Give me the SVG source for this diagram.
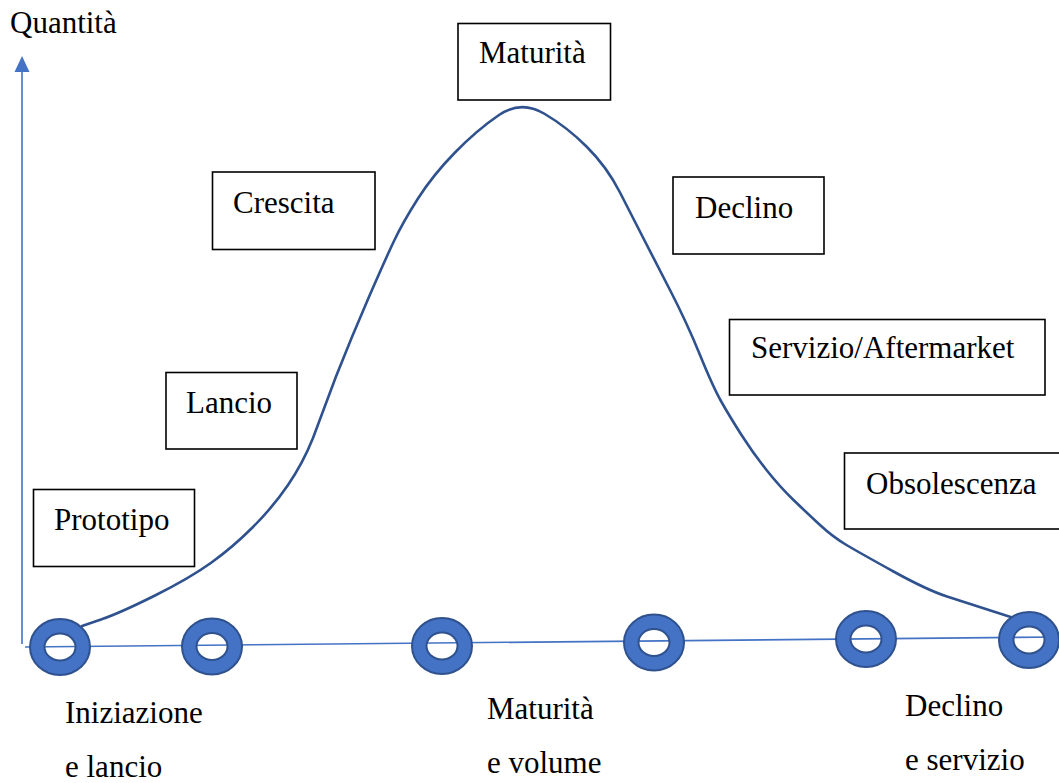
<svg xmlns="http://www.w3.org/2000/svg" width="1059" height="783" viewBox="0 0 1059 783">
  <style>
    .lbl { font-family: "Liberation Serif", "Times New Roman", serif; font-size: 31px; fill: #000; }
    .box { fill: #fff; stroke: #000; stroke-width: 1.6; }
    .axis { stroke: #4472C4; stroke-width: 1.6; fill: none; }
    .curve { stroke: #2F528F; stroke-width: 2.6; fill: none; stroke-linecap: round; }
    .ring { fill: #4472C4; fill-rule: evenodd; stroke: #2F528F; stroke-width: 2; }
  </style>
  <defs>
    <!-- donut marker: outer ellipse with a transparent hole -->
    <path id="ring" class="ring" d="M -30 0 A 30 28 0 1 0 30 0 A 30 28 0 1 0 -30 0 Z M -15.5 0 A 15.5 13.5 0 1 1 15.5 0 A 15.5 13.5 0 1 1 -15.5 0 Z"/>
  </defs>
  <rect width="1059" height="783" fill="#fff"/>

  <!-- axes and the life-cycle curve -->
  <g id="connectors">
    <line class="axis" x1="22" y1="644" x2="22" y2="70"/>
    <polygon points="22,56 14.5,72 29.5,72" fill="#4472C4"/>
    <line class="axis" x1="25" y1="647" x2="1059" y2="637"/>
    <path class="curve" d="M 82 626 L 101 619.5 Q 120 613 155 595.5 Q 190 578 211.5 562.5 Q 233 547 253 527 Q 273 507 288 485 Q 303 463 313 438 Q 322 414 336 376.5 Q 352 336 368.5 298 Q 385 260 394 241 Q 403 222 418 198.5 Q 433 175 455 152.5 Q 477 130 499 115 Q 521 100 544 113.5 Q 567 127 587 147 Q 607 167 620 192.5 Q 633 218 643 237.5 Q 653 257 670 290 Q 687 323 700 355 Q 713 387 721.5 402 Q 730 417 741.5 435 Q 753 453 766.5 470 Q 780 487 793.5 500 Q 807 513 820 525 Q 833 537 846.5 545 Q 860 553 893.5 571.5 Q 927 590 947 596.5 Q 967 603 1020 620"/>
  </g>

  <text id="y-label" class="lbl" x="10" y="33">Quantità</text>

  <!-- milestones along the horizontal axis -->
  <g id="milestone-1"><use href="#ring" x="60" y="647"/></g>
  <g id="milestone-2"><use href="#ring" x="212" y="646.5"/></g>
  <g id="milestone-3"><use href="#ring" x="442" y="646"/></g>
  <g id="milestone-4"><use href="#ring" x="654" y="642.5"/></g>
  <g id="milestone-5"><use href="#ring" x="866" y="639"/></g>
  <g id="milestone-6"><use href="#ring" x="1029" y="640"/></g>

  <!-- phase boxes -->
  <g id="prototipo">
    <rect class="box" x="33.5" y="489.5" width="161" height="77"/>
    <text class="lbl" x="54" y="530">Prototipo</text>
  </g>
  <g id="lancio">
    <rect class="box" x="166" y="372.5" width="131" height="76.5"/>
    <text class="lbl" x="186" y="413">Lancio</text>
  </g>
  <g id="crescita">
    <rect class="box" x="212.5" y="172" width="162.5" height="77.5"/>
    <text class="lbl" x="233" y="213">Crescita</text>
  </g>
  <g id="maturita">
    <rect class="box" x="458" y="23.5" width="152.5" height="76.5"/>
    <text class="lbl" x="479" y="63">Maturità</text>
  </g>
  <g id="declino">
    <rect class="box" x="673" y="177" width="151" height="77"/>
    <text class="lbl" x="695" y="218">Declino</text>
  </g>
  <g id="servizio">
    <rect class="box" x="729.5" y="319.5" width="315.5" height="75.5"/>
    <text class="lbl" x="751" y="358">Servizio/Aftermarket</text>
  </g>
  <g id="obsolescenza">
    <rect class="box" x="844.5" y="453" width="220" height="76"/>
    <text class="lbl" x="866" y="494">Obsolescenza</text>
  </g>

  <!-- stage labels under the axis -->
  <g id="stage-iniziazione">
    <text class="lbl" x="65" y="723">Iniziazione</text>
    <text class="lbl" x="65" y="777">e lancio</text>
  </g>
  <g id="stage-maturita">
    <text class="lbl" x="487" y="719">Maturità</text>
    <text class="lbl" x="487" y="773">e volume</text>
  </g>
  <g id="stage-declino">
    <text class="lbl" x="905" y="716">Declino</text>
    <text class="lbl" x="905" y="770">e servizio</text>
  </g>
</svg>
